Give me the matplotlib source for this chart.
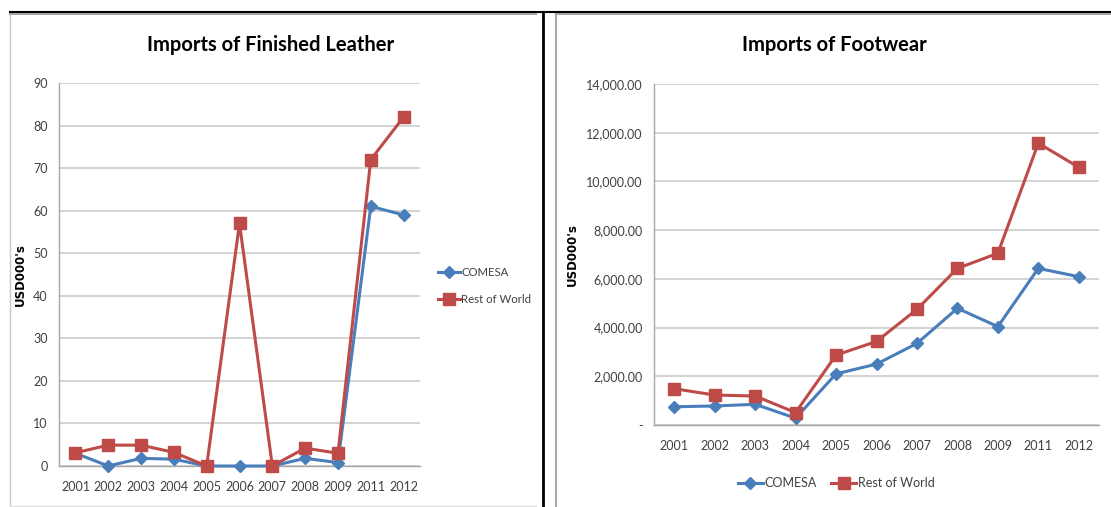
import matplotlib
matplotlib.use("Agg")
import matplotlib.pyplot as plt
from matplotlib.lines import Line2D
from matplotlib.ticker import FuncFormatter

years = ["2001", "2002", "2003", "2004", "2005", "2006", "2007", "2008", "2009", "2011", "2012"]

# Imports of Finished Leather (USD000's)
leather_comesa = [3, 0, 1.8, 1.6, 0, 0, 0, 1.8, 0.8, 61, 59]
leather_row = [3.1, 4.9, 4.9, 3.2, 0, 57, 0, 4.2, 3, 72, 82]

# Imports of Footwear (USD000's)
foot_comesa = [750, 780, 850, 280, 2100, 2500, 3350, 4790, 4040, 6430, 6090]
foot_row = [1490, 1230, 1190, 510, 2870, 3430, 4750, 6430, 7050, 11570, 10580]

BLUE = "#4A7EBB"
RED = "#BE4B48"
GRID = "#D0D0D0"
TXT = "#404040"
FONT = "Lato"

W, H = 1111, 507
fig = plt.figure(figsize=(W / 100, H / 100), dpi=100)


def px_axes(x0, y0, x1, y1):
    # pixel box (top-left origin) -> figure fraction axes
    return fig.add_axes([x0 / W, 1 - y1 / H, (x1 - x0) / W, (y1 - y0) / H])


def style(ax, ymax, step, fmt):
    x = range(len(years))
    ax.set_xlim(-0.5, len(years) - 0.5)
    ax.set_ylim(0, ymax)
    ax.set_yticks([v * step for v in range(int(ymax / step) + 1)])
    ax.yaxis.set_major_formatter(FuncFormatter(fmt))
    ax.set_xticks(list(x))
    ax.set_xticklabels(years)
    ax.grid(axis="y", color=GRID, lw=1.3)
    ax.set_axisbelow(True)
    for s in ("top", "right"):
        ax.spines[s].set_visible(False)
    for s in ("left", "bottom"):
        ax.spines[s].set_color("#A6A6A6")
        ax.spines[s].set_linewidth(1.0)
    ax.tick_params(length=0, labelsize=9, labelcolor=TXT)
    ax.tick_params(axis="y", pad=8)
    ax.tick_params(axis="x", pad=11)
    for lab in ax.get_xticklabels() + ax.get_yticklabels():
        lab.set_fontfamily(FONT)


def draw(ax, comesa, row):
    x = range(len(years))
    ax.plot(x, comesa, color=BLUE, lw=2.2, marker="D", ms=6, mec=BLUE, mfc=BLUE,
            label="COMESA", clip_on=False, zorder=3)
    ax.plot(x, row, color=RED, lw=2.2, marker="s", ms=8, mec=RED, mfc=RED,
            label="Rest of World", clip_on=False, zorder=3)


# left chart
ax1 = px_axes(59, 83, 420, 466)
draw(ax1, leather_comesa, leather_row)
style(ax1, 90, 10, lambda v, p: f"{v:.0f}")
ax1.set_ylabel("USD000's", fontsize=8.5, fontweight="bold", family="DejaVu Sans")
ax1.yaxis.set_label_coords(-0.089, 0.5)
fig.text(271 / W, 1 - 45 / H, "Imports of Finished Leather", ha="center", va="center",
         fontsize=14.5, fontweight="bold", family=FONT)
leg1 = ax1.legend(loc="center left", bbox_to_anchor=(428 / W, 1 - 286 / H),
                  bbox_transform=fig.transFigure, frameon=False, handlelength=1.9,
                  handletextpad=0.1, labelspacing=1.4, prop={"family": FONT, "size": 8.2})

# right chart
ax2 = px_axes(654, 84, 1099, 425)
draw(ax2, foot_comesa, foot_row)
style(ax2, 14000, 2000, lambda v, p: "-" if v == 0 else f"{v:,.2f}")
ax2.set_ylabel("USD000's", fontsize=8.5, fontweight="bold", family="DejaVu Sans")
ax2.yaxis.set_label_coords(-0.169, 0.5)
fig.text(834 / W, 1 - 45 / H, "Imports of Footwear", ha="center", va="center",
         fontsize=14.5, fontweight="bold", family=FONT)
leg2 = ax2.legend(loc="center", bbox_to_anchor=(836 / W, 1 - 483 / H), ncol=2,
                  bbox_transform=fig.transFigure, frameon=False, handlelength=2.0,
                  handletextpad=0.1, columnspacing=1.2, prop={"family": FONT, "size": 9})
for leg in (leg1, leg2):
    for t in leg.get_texts():
        t.set_color(TXT)

# panel borders
def fig_line(xs, ys, color, lw):
    fig.add_artist(Line2D([x / W for x in xs], [1 - y / H for y in ys],
                          color=color, lw=lw, transform=fig.transFigure))

fig_line([10, 10], [13, 506], "#C8C8C8", 1.0)
fig_line([10, 536], [506, 506], "#E0E0E0", 1.0)
fig_line([556, 556], [13, 507], "#A8A8A8", 1.5)
fig_line([10, 536], [14, 14], "#A8A8A8", 1.5)
fig_line([556, 1111], [14, 14], "#A8A8A8", 1.5)
fig_line([10, 1111], [12, 12], "black", 1.5)
fig_line([543, 543], [12, 507], "black", 2.0)

fig.savefig("out.png", dpi=100)
